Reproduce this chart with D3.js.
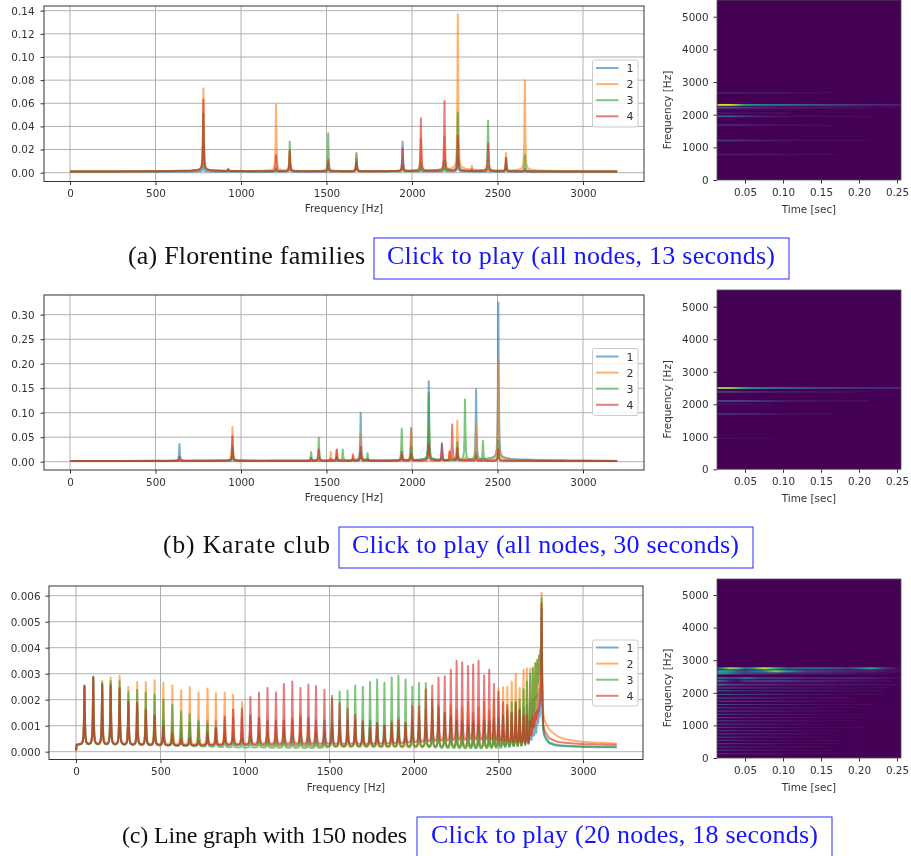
<!DOCTYPE html>
<html><head><meta charset="utf-8">
<style>
html,body{margin:0;padding:0;background:#fff;overflow:hidden}
svg{display:block;filter:blur(0.35px)}
text{font-family:"DejaVu Sans",sans-serif;fill:#333}
.cap{font-family:"Liberation Serif",serif;fill:#111}
.link{font-family:"Liberation Serif",serif;font-size:26px;fill:#1515ff}
</style>
<script src="https://cdn.jsdelivr.net/npm/d3@7"></script>
</head><body><script>
const seriesNames=["1","2","3","4"];
const seriesColors=["#1f77b4","#ff7f0e","#2ca02c","#d62728"];
const xTicks=[0,500,1000,1500,2000,2500,3000];
const flankOffsets=[0,3,6,10,16,25,40,70,120,200,350,700];
const flankShares=[1,.42,.16,.07,.04,.028,.02,.014,.01,.007,.004,0];

// (a) Florentine families: peak frequencies and heights
const freqA=[780,925,1205,1285,1510,1675,1945,2052,2190,2268,2350,2445,2550,2660];
const a1=[.008,.002,.003,.005,.003,.017,.027,.005,.010,.012,.001,.003,.004,.002];
const a2=[.073,.003,.059,.018,.008,.016,.008,.029,.031,.137,.006,.005,.017,.080];
const a3=[.051,.003,.003,.027,.034,.012,.006,.008,.010,.052,.002,.045,.012,.015];
const a4=[.063,.003,.015,.019,.011,.009,.021,.047,.062,.032,.003,.025,.013,.003];
const yTicksA=[0,.02,.04,.06,.08,.10,.12,.14];

// (b) Karate club
const freqB=[640,950,1410,1455,1525,1560,1595,1655,1700,1740,1940,1995,2098,2175,2220,2235,2265,2310,2375,2415,2505];
const b1=[.036,.010,.001,.003,.001,.004,.002,.002,.100,.001,.012,.069,.164,.038,.003,.003,.010,.002,.148,.002,.325];
const b2=[.004,.071,.001,.008,.020,.024,.002,.016,.055,.001,.006,.065,.070,.012,.022,.010,.084,.008,.077,.002,.204];
const b3=[.002,.030,.020,.049,.002,.010,.025,.004,.020,.018,.068,.030,.140,.006,.004,.006,.040,.127,.020,.043,.042];
const b4=[.010,.052,.008,.025,.006,.025,.002,.012,.030,.006,.020,.015,.035,.035,.020,.076,.028,.004,.012,.002,.025];
const yTicksB=[0,.05,.10,.15,.20,.25,.30];

// (c) Line graph with 150 nodes
const freqC=[50,102,155,205,258,310,362,413,465,517,
 570,622,673,725,778,828,880,930,982,1032,
 1083,1133,1183,1230,1280,1328,1375,1420,1470,1515,
 1560,1607,1652,1697,1740,1782,1825,1868,1908,1950,
 1990,2030,2070,2108,2145,2182,2218,2252,2285,2320,
 2350,2382,2415,2445,2473,2500,2527,2552,2578,2602,
 2625,2648,2668,2687,2703,2718,2730,2740,2748,2755];
const c1=[.00255,.00288,.0026,.0026,.0024,.0020,.0018,.0016,.0014,.0012,
 .0010,.0010,.0011,.0011,.0012,.0012,.0012,.0013,.0013,.0014,
 .0013,.0012,.0012,.0012,.0012,.0013,.0013,.0012,.0012,.0011,
 .0012,.0012,.0012,.0012,.0012,.0011,.0010,.0010,.0010,.0010,
 .0011,.0011,.0012,.0012,.0013,.0013,.0013,.0012,.0012,.0012,
 .0012,.0012,.0012,.0012,.0012,.0013,.0013,.0013,.0014,.0015,
 .0016,.0017,.0018,.0019,.0020,.0021,.0022,.0024,.0026,.0055];
const c2=[.00255,.0029,.00272,.00285,.00292,.0025,.00268,.00268,.00275,.00265,
 .00255,.00235,.00248,.00228,.00243,.00225,.00228,.0022,.0019,.0012,
 .0013,.0011,.0010,.0012,.0013,.0014,.0010,.0009,.0008,.0009,
 .0009,.0008,.0012,.0010,.0011,.0010,.0009,.0012,.0013,.0011,
 .0012,.0014,.0016,.0017,.0018,.0015,.0018,.0016,.0017,.0019,
 .0015,.0017,.0019,.0016,.0020,.00245,.00248,.0025,.0027,.0030,
 .00245,.00315,.0032,.0032,.00325,.0034,.0035,.0037,.0040,.0061];
const c3=[.00252,.00285,.00265,.00272,.00272,.0023,.00237,.00228,.0022,.0020,
 .0018,.00155,.00145,.0012,.00105,.0009,.0007,.0006,.0005,.0006,
 .0007,.0006,.0005,.0008,.0006,.0007,.0005,.0007,.0008,.00215,
 .00232,.00235,.00255,.0025,.00268,.00278,.00265,.00285,.00292,.00278,
 .0025,.00264,.00264,.0020,.0017,.0015,.0014,.0012,.0011,.0010,
 .0011,.0010,.0012,.0011,.0013,.0012,.0014,.0016,.0019,.0019,
 .0020,.0024,.0027,.0030,.0032,.0034,.00355,.0037,.0039,.0059];
const c4=[.0025,.00285,.00255,.00255,.00245,.0019,.00188,.0016,.00138,.0010,
 .0007,.0005,.0005,.0004,.0007,.0009,.00135,.00162,.00165,.0021,
 .00228,.00245,.00228,.0026,.0027,.00245,.00258,.00252,.00238,.00205,
 .00185,.00165,.00142,.0011,.0009,.0011,.0010,.0011,.0012,.0011,
 .00175,.00175,.0024,.00255,.00285,.0029,.00315,.0035,.00343,.0033,
 .00335,.0035,.00293,.00315,.0026,.0023,.0019,.0018,.0015,.0019,
 .0016,.0014,.0014,.0012,.0014,.0015,.0016,.0017,.0022,.0057];
const yTicksC=[0,.001,.002,.003,.004,.005,.006];
const baseFreqC=[0,4,8,1000,1500,2000,2500,2680,2745,2765,2800,2850,2900,3000,3200];
const baseC1=[0,.00022,.00022,.00022,.00020,.00018,.00016,.00014,.0006,.00045,.00022,.00017,.00016,.00015,.00015];
const baseC2=[0,.00022,.00022,.00022,.00018,.00012,.00008,.00008,.0011,.0011,.00075,.00052,.00042,.00034,.0003];
const baseC3=[0,.00022,.00022,.00015,.00012,.00010,.00008,.00010,.0026,.0005,.00025,.00019,.00018,.00017,.00017];
const baseC4=[0,.00022,.00024,.00024,.00024,.00032,.00035,.00025,.0016,.0007,.00042,.00032,.00029,.00026,.00025];

// Spectrograms
const specYTicks=[0,1000,2000,3000,4000,5000];
const specXTicks=[.05,.10,.15,.20,.25];
const timesAB=[.0132,.03,.05,.075,.10,.15,.20,.255];
const bandsAFreq=[780,1210,1680,1950,2050,2190,2220,2300,2670];
const bandsAVals=[
 [.08,.08,.08,.06,.04,.02,.01,0],
 [.15,.15,.12,.08,.05,.03,.02,0],
 [.10,.10,.09,.06,.04,.02,.01,0],
 [.28,.28,.16,.08,.05,.03,.02,.01],
 [.05,.05,.04,.03,.02,.01,0,0],
 [.06,.06,.05,.04,.03,.01,0,0],
 [.30,.26,.16,.10,.08,.06,.04,.02],
 [.95,.95,.55,.42,.38,.25,.15,.10],
 [.08,.08,.07,.06,.05,.02,.01,0]];
const bandsBFreq=[950,1700,2000,2100,2380,2500];
const bandsBVals=[
 [.03,.03,.02,.02,.01,0,0,0],
 [.13,.13,.11,.08,.04,.02,.01,0],
 [.04,.04,.03,.02,.01,.01,0,0],
 [.22,.22,.20,.13,.08,.04,.02,.01],
 [.18,.18,.13,.09,.07,.04,.02,.01],
 [.85,.85,.60,.40,.35,.22,.15,.12]];
const timesC=[.0132,.02,.03,.04,.05,.06,.075,.09,.105,.13,.16,.19,.215,.235,.255];
const bandsCFreq=[2250,2360,2450,2600,2660,2750];
const bandsCVals=[
 [.35,.30,.20,.18,.15,.12,.12,.10,.08,.07,.06,.05,.04,.03,.02],
 [.40,.25,.10,.05,.15,.15,.15,.18,.15,.10,.08,.05,.03,.02,.01],
 [.35,.30,.20,.20,.35,.25,.15,.15,.15,.10,.10,.10,.08,.05,.02],
 [.60,.55,.45,.30,.20,.20,.20,.15,.10,.10,.08,.05,.03,.02,.01],
 [.55,.60,.50,.30,.20,.30,.45,.80,.55,.20,.15,.10,.10,.05,.02],
 [.25,.45,.85,.75,.35,.55,.92,.65,.30,.35,.30,.20,.60,.15,.02]];
const stripeTimes=[.0132,.05,.10,.15,.20,.255];
const stripeFreq=[130,240,340,440,540,640,740,840,940,1040,1140,1240,1340,1440,1540,1640,1740,1840,1950,2060,2150];
const stripeVals=[
 [.16,.09,.05,.03,.01,0],[.18,.10,.05,.03,.01,0],[.16,.09,.05,.03,.01,0],
 [.20,.10,.06,.03,.01,0],[.17,.08,.05,.03,.01,0],[.20,.11,.06,.03,.01,0],
 [.22,.12,.07,.03,.01,0],[.19,.10,.06,.03,.01,0],[.22,.12,.07,.03,.02,0],
 [.20,.11,.06,.03,.01,0],[.22,.12,.07,.04,.02,0],[.24,.12,.08,.04,.02,0],
 [.20,.10,.07,.04,.02,0],[.24,.14,.08,.04,.02,.01],[.22,.12,.08,.04,.02,.01],
 [.24,.13,.09,.04,.02,.01],[.22,.17,.09,.05,.02,.01],[.27,.21,.10,.05,.03,.01],
 [.30,.16,.10,.05,.03,.01],[.32,.15,.12,.07,.04,.01],[.35,.19,.12,.07,.04,.02]];

const captionLabels=["(a) Florentine families","(b) Karate club","(c) Line graph with 150 nodes"];
const captionLinks=["Click to play (all nodes, 13 seconds)","Click to play (all nodes, 30 seconds)","Click to play (20 nodes, 18 seconds)"];

const W=911,H=856;
const svg=d3.select("body").append("svg").attr("width",W).attr("height",H);
const defs=svg.append("defs");
defs.append("filter").attr("id","bandblur").attr("x","-2%").attr("y","-5%").attr("width","104%").attr("height","110%")
  .append("feGaussianBlur").attr("stdDeviation","0.8 0.7");

const shareOf=d3.scaleLinear().domain(flankOffsets).range(flankShares).clamp(true);

function seriesLine(freqs,amps,baseF,baseV){
  const baseOf=d3.scaleLinear().domain(baseF).range(baseV).clamp(true);
  const xs=new Set(baseF);
  freqs.forEach(f=>flankOffsets.forEach(o=>{xs.add(f-o);xs.add(f+o);}));
  const sorted=[...xs].filter(x=>x>=0&&x<=3200).sort(d3.ascending);
  return sorted.map(x=>{
    const b=baseOf(x);
    const rise=d3.max(freqs,(f,i)=>(amps[i]-b)*shareOf(Math.abs(x-f)));
    return [x,b+Math.max(rise,0)];
  });
}

function styleAxis(a){
  a.select(".domain").remove();
  a.selectAll("text").attr("font-size",10.4).attr("font-family","DejaVu Sans").style("fill","#333");
  a.selectAll("line").attr("stroke","#333");
}

function spectrum(o){
  const x=d3.scaleLinear().domain([0,3000]).range([o.x0,o.x3000]);
  const y=d3.scaleLinear().domain(o.yRef).range(o.yPx);
  const g=svg.append("g");
  const {left,right,top,bottom}=o;
  g.append("g").selectAll("line").data(xTicks).join("line")
    .attr("x1",d=>x(d)).attr("x2",d=>x(d)).attr("y1",top).attr("y2",bottom)
    .attr("stroke","#b0b0b0").attr("stroke-width",1);
  g.append("g").selectAll("line").data(o.yTicks).join("line")
    .attr("x1",left).attr("x2",right).attr("y1",d=>y(d)).attr("y2",d=>y(d))
    .attr("stroke","#b0b0b0").attr("stroke-width",1);
  const line=d3.line().x(d=>x(d[0])).y(d=>y(d[1]));
  const clipId="c"+top;
  defs.append("clipPath").attr("id",clipId).append("rect")
    .attr("x",left).attr("y",top).attr("width",right-left).attr("height",bottom-top);
  const lines=g.append("g").attr("clip-path",`url(#${clipId})`);
  o.amps.forEach((a,i)=>{
    lines.append("path").attr("d",line(seriesLine(o.freqs,a,o.baseF,o.baseV[i])))
      .attr("fill","none").attr("stroke",seriesColors[i]).attr("stroke-width",2)
      .attr("stroke-opacity",.6).attr("stroke-linejoin","round");
  });
  const ax=g.append("g").attr("transform",`translate(0,${bottom})`)
    .call(d3.axisBottom(x).tickValues(xTicks).tickFormat(d3.format("d")).tickSize(3.5).tickPadding(5));
  const ay=g.append("g").attr("transform",`translate(${left},0)`)
    .call(d3.axisLeft(y).tickValues(o.yTicks).tickFormat(d3.format(o.fmt)).tickSize(3.5).tickPadding(o.yPad));
  styleAxis(ax);styleAxis(ay);
  g.append("rect").attr("x",left).attr("y",top).attr("width",right-left).attr("height",bottom-top)
    .attr("fill","none").attr("stroke","#333").attr("stroke-width",1);
  g.append("text").attr("x",(left+right)/2).attr("y",o.xlabelY).attr("text-anchor","middle")
    .attr("font-size",10.4).text("Frequency [Hz]");
  // legend
  const lg=g.append("g").attr("transform",`translate(592.5,${o.legendTop})`);
  lg.append("rect").attr("width",45.5).attr("height",o.legendH).attr("rx",2)
    .attr("fill","#fff").attr("fill-opacity",.85).attr("stroke","#ccc");
  seriesNames.forEach((n,i)=>{
    const yy=o.legendFirst+i*16.1;
    lg.append("line").attr("x1",3.5).attr("x2",26).attr("y1",yy).attr("y2",yy)
      .attr("stroke",seriesColors[i]).attr("stroke-width",2).attr("stroke-opacity",.6);
    lg.append("text").attr("x",34).attr("y",yy+4).attr("font-size",11).text(n);
  });
}

function spectrogram(o){
  const left=717,right=901;
  const x=d3.scaleLinear().domain([.05,.25]).range([745,897]);
  const y=d3.scaleLinear().domain([0,5000]).range([o.y0,o.y5000]);
  const color=d3.scaleSequential(d3.interpolateViridis).domain([0,1]);
  const g=svg.append("g");
  const clipId="s"+o.top;
  const panelTop=Math.max(o.top,0);
  defs.append("clipPath").attr("id",clipId).append("rect")
    .attr("x",left).attr("y",panelTop).attr("width",right-left).attr("height",o.y0-panelTop);
  const body=g.append("g").attr("clip-path",`url(#${clipId})`);
  body.append("rect").attr("x",left).attr("y",panelTop).attr("width",right-left).attr("height",o.y0-panelTop)
    .attr("fill",color(0));
  const bands=body.append("g").attr("filter","url(#bandblur)");
  let n=0;
  o.sets.forEach(set=>{
    set.freq.forEach((f,i)=>{
      const id=`g${o.top}_${n++}`;
      const lg=defs.append("linearGradient").attr("id",id).attr("gradientUnits","userSpaceOnUse")
        .attr("x1",x(set.times[0])).attr("x2",x(set.times[set.times.length-1])).attr("y1",0).attr("y2",0);
      const ts=d3.scaleLinear().domain(d3.extent(set.times)).range([0,1]);
      set.vals[i].forEach((v,j)=>lg.append("stop").attr("offset",ts(set.times[j])).attr("stop-color",color(v)));
      bands.append("rect")
        .attr("x",x(set.times[0])).attr("width",x(set.times[set.times.length-1])-x(set.times[0]))
        .attr("y",y(f+set.half)).attr("height",y(f-set.half)-y(f+set.half))
        .attr("fill",`url(#${id})`);
    });
  });
  const ax=g.append("g").attr("transform",`translate(0,${o.y0})`)
    .call(d3.axisBottom(x).tickValues(specXTicks).tickFormat(d3.format(".2f")).tickSize(3.5).tickPadding(5));
  const ay=g.append("g").attr("transform",`translate(${left},0)`)
    .call(d3.axisLeft(y).tickValues(specYTicks).tickFormat(d3.format("d")).tickSize(3.5).tickPadding(5));
  styleAxis(ax);styleAxis(ay);
  g.append("rect").attr("x",left).attr("y",panelTop).attr("width",right-left).attr("height",o.y0-panelTop)
    .attr("fill","none").attr("stroke","#555").attr("stroke-width",.8);
  g.append("text").attr("x",809).attr("y",o.y0+32.5).attr("text-anchor","middle").attr("font-size",10.4).text("Time [sec]");
  g.append("text").attr("transform",`translate(671,${o.y0-70}) rotate(-90)`).attr("text-anchor","middle")
    .attr("font-size",10.4).text("Frequency [Hz]");
}

spectrum({left:44,right:644,top:6,bottom:181.5,x0:70,x3000:583,yRef:[0,.14],yPx:[172.7,10.7],yPad:6,
  yTicks:yTicksA,fmt:".2f",freqs:freqA,amps:[a1,a2,a3,a4],baseF:[0,3200],
  baseV:[[.0010,.0010],[.0010,.0010],[.0010,.0010],[.0010,.0010]],
  xlabelY:212,legendTop:60,legendH:67,legendFirst:8});
spectrum({left:44,right:644,top:295,bottom:470,x0:70,x3000:583,yRef:[0,.30],yPx:[461.7,314.7],yPad:6,
  yTicks:yTicksB,fmt:".2f",freqs:freqB,amps:[b1,b2,b3,b4],baseF:[0,3200],
  baseV:[[.0015,.0015],[.0015,.0015],[.0015,.0015],[.0015,.0015]],
  xlabelY:501,legendTop:348.5,legendH:67,legendFirst:8});
spectrum({left:49,right:643,top:586,bottom:759.5,x0:76,x3000:583,yRef:[0,.006],yPx:[751.7,595.7],yPad:5,
  yTicks:yTicksC,fmt:".3f",freqs:freqC,amps:[c1,c2,c3,c4],baseF:baseFreqC,
  baseV:[baseC1,baseC2,baseC3,baseC4],
  xlabelY:790.5,legendTop:640,legendH:66,legendFirst:7.5});

spectrogram({top:-1,y0:180,y5000:16.7,sets:[{freq:bandsAFreq,vals:bandsAVals,times:timesAB,half:28}]});
spectrogram({top:290,y0:469.3,y5000:306.7,sets:[{freq:bandsBFreq,vals:bandsBVals,times:timesAB,half:28}]});
spectrogram({top:579,y0:758,y5000:595,sets:[
  {freq:stripeFreq,vals:stripeVals,times:stripeTimes,half:17},
  {freq:bandsCFreq,vals:bandsCVals,times:timesC,half:34}]});

const capLayout=[
 {x:128,w:237,fs:26,bx:374,bw:415,tx:387,tw:388,by:238,bh:41,ty:264},
 {x:163,w:167,fs:25.5,bx:339,bw:414,tx:352,tw:387,by:527,bh:41,ty:553},
 {x:122,w:285,fs:24,bx:417,bw:415,tx:431,tw:387,by:817,bh:41,ty:843}];
captionLabels.forEach((t,i)=>{
  const c=capLayout[i];
  svg.append("text").attr("class","cap").attr("x",c.x).attr("y",c.ty).attr("font-size",c.fs)
    .attr("textLength",c.w).attr("lengthAdjust","spacing").text(t);
  svg.append("rect").attr("x",c.bx).attr("y",c.by).attr("width",c.bw).attr("height",c.bh)
    .attr("fill","none").attr("stroke","#2a2aff").attr("stroke-width",1);
  svg.append("text").attr("class","link").attr("x",c.tx).attr("y",c.ty)
    .attr("textLength",c.tw).attr("lengthAdjust","spacing").text(captionLinks[i]);
});
</script></body></html>
